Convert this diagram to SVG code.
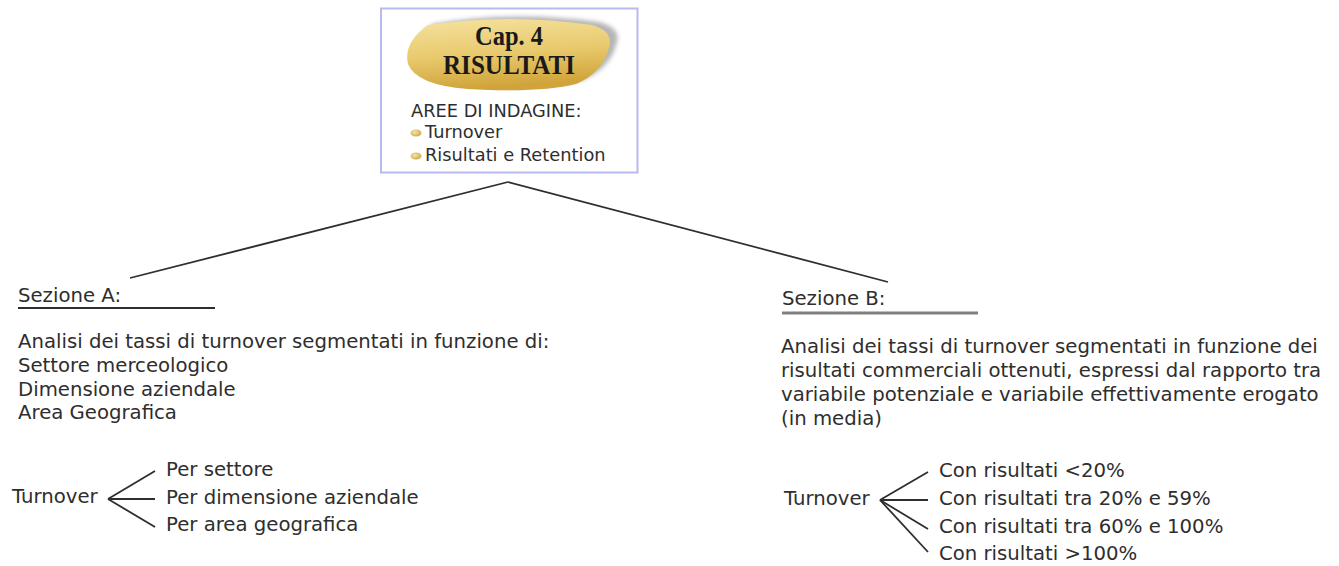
<svg xmlns="http://www.w3.org/2000/svg" width="1339" height="566" viewBox="0 0 1339 566">
<defs>
<linearGradient id="gold" x1="0" y1="0" x2="0.2" y2="1">
<stop offset="0" stop-color="#f6e3a0"/>
<stop offset="0.55" stop-color="#e8c96c"/>
<stop offset="1" stop-color="#d0a43a"/>
</linearGradient>
<radialGradient id="bul" cx="0.4" cy="0.4" r="0.7">
<stop offset="0" stop-color="#f6e6a6"/>
<stop offset="1" stop-color="#c9a040"/>
</radialGradient>
<filter id="blur" x="-10%" y="-20%" width="120%" height="140%"><feGaussianBlur stdDeviation="2"/></filter>
</defs>
<style>
text{font-family:"DejaVu Sans",Verdana,sans-serif;fill:#2e2e2e;font-size:19.7px}
.hd{font-family:"Liberation Serif","Times New Roman",serif;font-size:28px;font-weight:bold;fill:#1a1a1a}
.sm{font-size:17.8px}
.ln{stroke:#2e2e2e;stroke-width:1.8;fill:none}
</style>
<rect width="1339" height="566" fill="#ffffff"/>
<g id="root">
<rect x="381" y="8.5" width="256.5" height="164" fill="#ffffff" stroke="#b9b9f2" stroke-width="2"/>
<path d="M430 26 Q510 12 596 24 Q618 30 614 44 Q608 70 580 82 Q540 92 470 88 Q420 84 411 64 Q404 44 430 26 Z" fill="#7a7a7a" opacity="0.55" filter="url(#blur)" transform="translate(3,-2)"/>
<path d="M428 25 Q510 13 592 25 Q614 31 609 48 Q602 73 576 84 Q540 93 468 89 Q416 85 408 64 Q403 43 428 25 Z" fill="url(#gold)"/>
<text class="hd" x="475" y="45" textLength="68" lengthAdjust="spacingAndGlyphs">Cap. 4</text>
<text class="hd" x="443" y="74" textLength="132" lengthAdjust="spacingAndGlyphs">RISULTATI</text>
<text class="sm" x="411" y="117">AREE DI INDAGINE:</text>
<ellipse cx="416" cy="133" rx="5.5" ry="3.5" fill="url(#bul)"/>
<text class="sm" x="425" y="138">Turnover</text>
<ellipse cx="416" cy="156" rx="5.5" ry="3.5" fill="url(#bul)"/>
<text class="sm" x="425" y="161">Risultati e Retention</text>
</g>
<g id="connectors">
<line class="ln" x1="508" y1="182" x2="130" y2="278"/>
<line class="ln" x1="508" y1="182" x2="888" y2="282"/>
<line class="ln" x1="108" y1="499" x2="155" y2="471"/>
<line class="ln" x1="108" y1="499" x2="155" y2="499"/>
<line class="ln" x1="108" y1="499" x2="155" y2="527"/>
<line class="ln" x1="880" y1="500" x2="928" y2="472"/>
<line class="ln" x1="880" y1="500" x2="928" y2="500"/>
<line class="ln" x1="880" y1="500" x2="928" y2="529"/>
<line class="ln" x1="880" y1="500" x2="928" y2="552"/>
</g>
<g id="sezioneA">
<text x="18" y="302">Sezione A:</text>
<line x1="18" y1="308" x2="215" y2="308" stroke="#2e2e2e" stroke-width="2"/>
<text x="18" y="348">Analisi dei tassi di turnover segmentati in funzione di:</text>
<text x="18" y="372">Settore merceologico</text>
<text x="18" y="396">Dimensione aziendale</text>
<text x="18" y="419">Area Geografica</text>
</g>
<g id="turnoverA">
<text x="12" y="503">Turnover</text>
<text x="166" y="476">Per settore</text>
<text x="166" y="504">Per dimensione aziendale</text>
<text x="166" y="531">Per area geografica</text>
</g>
<g id="sezioneB">
<text x="782" y="305">Sezione B:</text>
<line x1="782" y1="313" x2="978" y2="313" stroke="#808080" stroke-width="3"/>
<text x="781" y="353">Analisi dei tassi di turnover segmentati in funzione dei</text>
<text x="781" y="377">risultati commerciali ottenuti, espressi dal rapporto tra</text>
<text x="781" y="401">variabile potenziale e variabile effettivamente erogato</text>
<text x="781" y="425">(in media)</text>
</g>
<g id="turnoverB">
<text x="784" y="505">Turnover</text>
<text x="939" y="477">Con risultati &lt;20%</text>
<text x="939" y="505">Con risultati tra 20% e 59%</text>
<text x="939" y="533">Con risultati tra 60% e 100%</text>
<text x="939" y="560">Con risultati &gt;100%</text>
</g>
</svg>
